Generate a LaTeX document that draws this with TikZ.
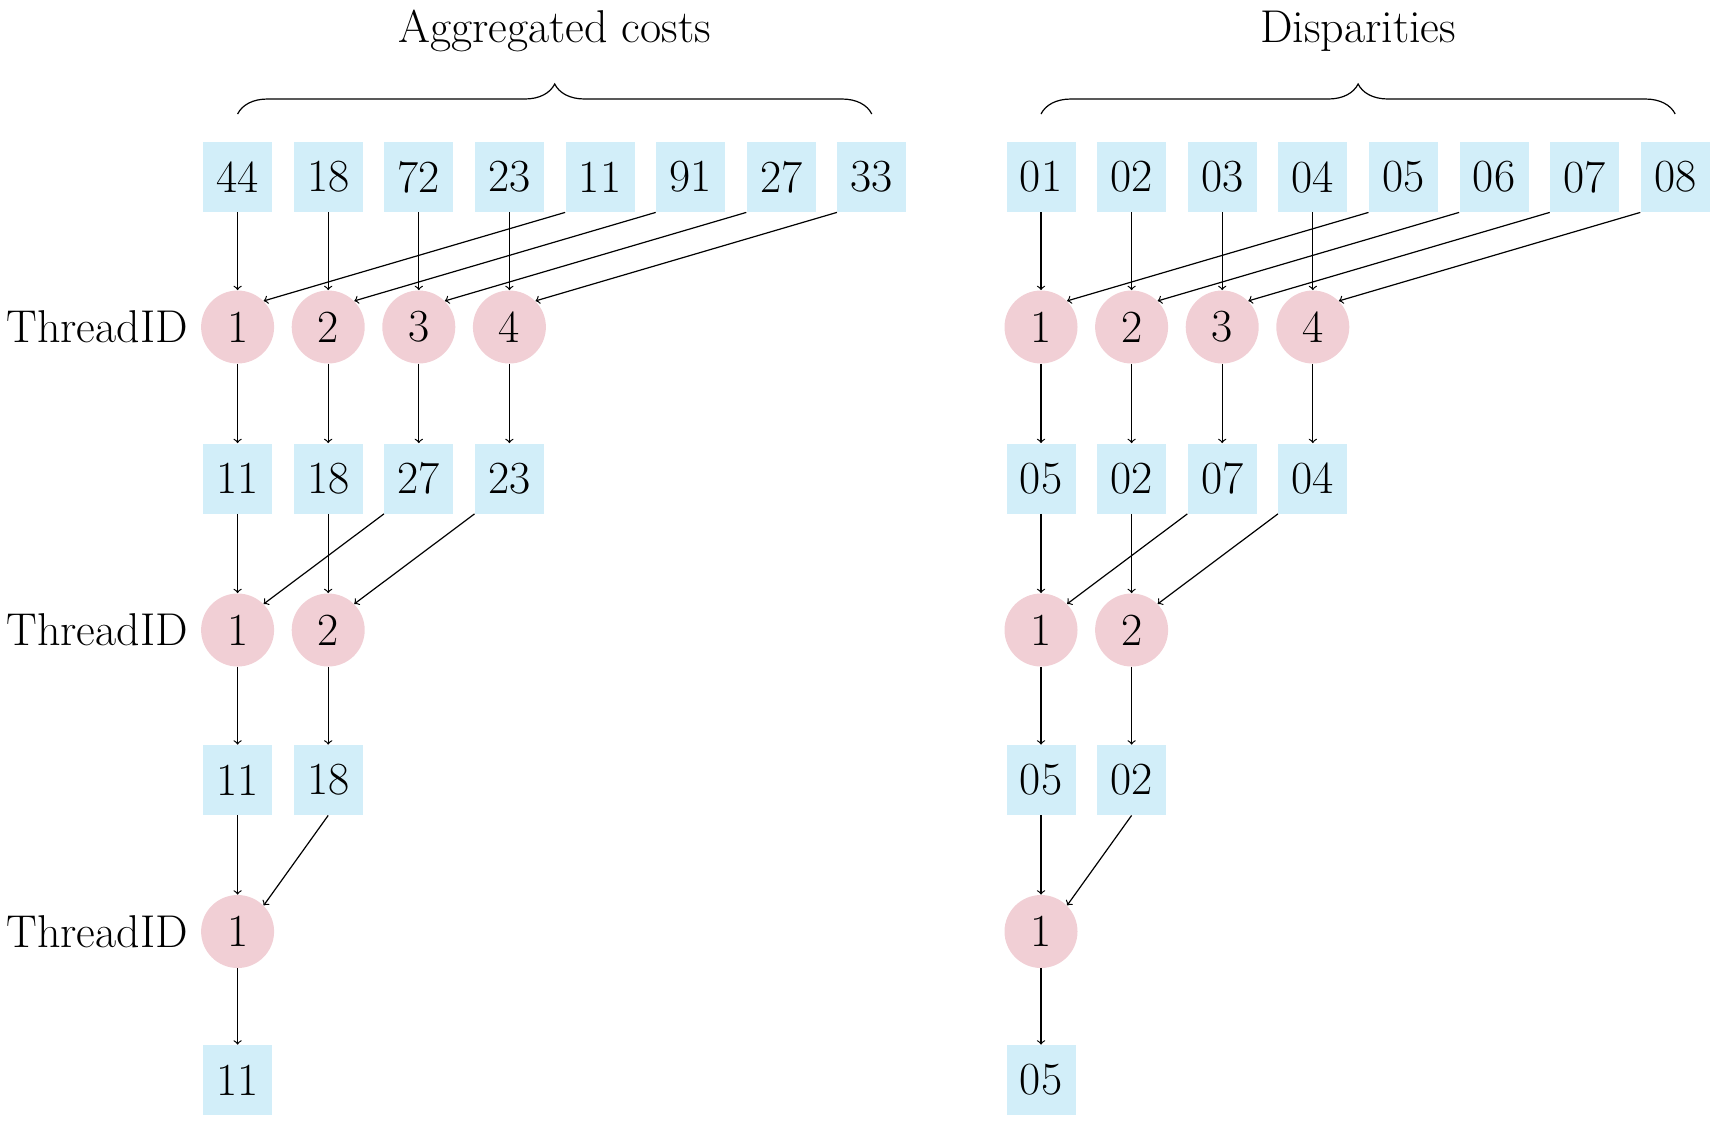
\documentclass[tikz,border=0pt]{standalone}
\usetikzlibrary{decorations.pathreplacing}
\definecolor{bx}{RGB}{210,238,249}
\definecolor{cr}{RGB}{241,207,213}
\begin{document}
\begin{tikzpicture}[x=0.5pt,y=-0.5pt,
  every node/.style={font=\fontsize{23}{27}\selectfont},
  box/.style={fill=bx,minimum width=34.5pt,minimum height=35pt,inner sep=0pt},
  thr/.style={fill=cr,circle,minimum size=36.5pt,inner sep=0pt},
  ar/.style={->,line width=0.6pt},
  br/.style={decorate,decoration={brace,amplitude=15pt},line width=0.6pt}]
\useasboundingbox (0,0) rectangle (1733,1132);
\def\dx{90.6}
\foreach \side/\xo/\ttl/\va/\vb/\vc/\vd in {L/237.6/Aggregated costs/{44,18,72,23,11,91,27,33}/{11,18,27,23}/{11,18}/11,R/1041/Disparities/{01,02,03,04,05,06,07,08}/{05,02,07,04}/{05,02}/05}{
  \foreach \v [count=\i] in \va { \node[box] (\side a\i) at ({\xo+(\i-1)*\dx},177) {\v}; }
  \foreach \i in {1,...,4} { \node[thr] (\side t\i) at ({\xo+(\i-1)*\dx},327) {\i}; }
  \foreach \v [count=\i] in \vb { \node[box] (\side b\i) at ({\xo+(\i-1)*\dx},478.5) {\v}; }
  \foreach \i in {1,2} { \node[thr] (\side u\i) at ({\xo+(\i-1)*\dx},630) {\i}; }
  \foreach \v [count=\i] in \vc { \node[box] (\side c\i) at ({\xo+(\i-1)*\dx},780) {\v}; }
  \node[thr] (\side w1) at (\xo,931.5) {1};
  \node[box] (\side d1) at (\xo,1080) {\vd};
  \node (\side title) at ({\xo+3.5*\dx},31) {\ttl};
  \draw[br] ({\xo},114) -- ({\xo+7*\dx},114);
  \foreach \i [evaluate=\i as \j using int(\i+4)] in {1,...,4} {
    \draw[ar] (\side a\i) -- (\side t\i);
    \draw[ar] (\side a\j.south west) -- (\side t\i.north east);
    \draw[ar] (\side t\i) -- (\side b\i);
  }
  \foreach \i [evaluate=\i as \j using int(\i+2)] in {1,2} {
    \draw[ar] (\side b\i) -- (\side u\i);
    \draw[ar] (\side b\j.south west) -- (\side u\i.north east);
    \draw[ar] (\side u\i) -- (\side c\i);
  }
  \draw[ar] (\side c1) -- (\side w1);
  \draw[ar] (\side c2.south) -- (\side w1.north east);
  \draw[ar] (\side w1) -- (\side d1);
}
\foreach \y/\n in {327/A,630/B,931.5/C} { \node (thread\n) at (97,\y) {ThreadID}; }
\end{tikzpicture}
\end{document}
